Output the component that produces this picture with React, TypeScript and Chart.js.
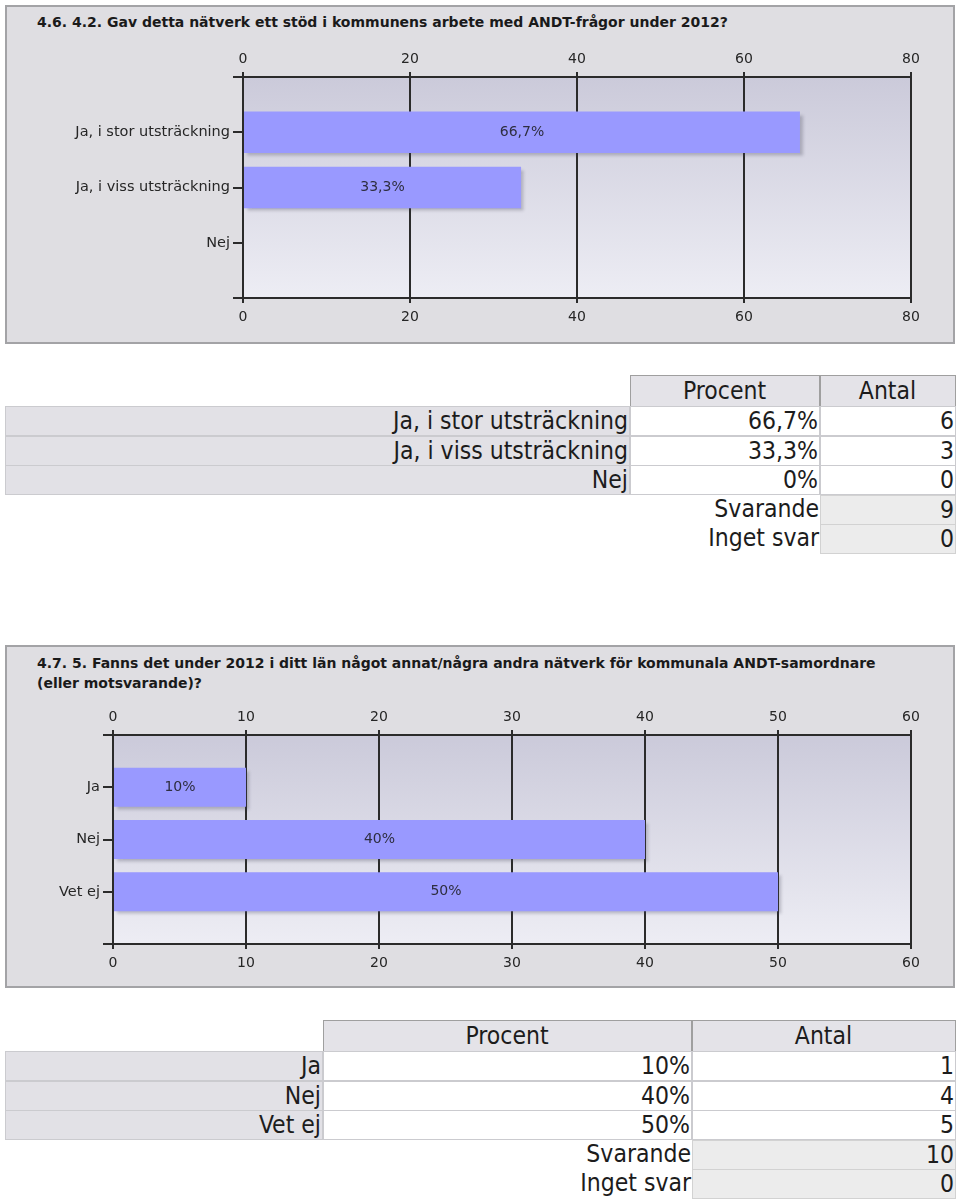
import React, { useEffect, useRef } from "react";
import { Chart, registerables } from "chart.js";

Chart.register(...registerables);

// ---------- DATA ----------
const q1Title = "4.6. 4.2. Gav detta nätverk ett stöd i kommunens arbete med ANDT-frågor under 2012?";
const q1Categories = ["Ja, i stor utsträckning", "Ja, i viss utsträckning", "Nej"];
const q1Percent = [66.7, 33.3, 0];
const q1PercentLabels = ["66,7%", "33,3%", "0%"];
const q1Count = [6, 3, 0];
const q1Svarande = 9;
const q1IngetSvar = 0;
const q1Ticks = [0, 20, 40, 60, 80];

const q2TitleLines = [
  "4.7. 5. Fanns det under 2012 i ditt län något annat/några andra nätverk för kommunala ANDT-samordnare",
  "(eller motsvarande)?",
];
const q2Categories = ["Ja", "Nej", "Vet ej"];
const q2Percent = [10, 40, 50];
const q2PercentLabels = ["10%", "40%", "50%"];
const q2Count = [1, 4, 5];
const q2Svarande = 10;
const q2IngetSvar = 0;
const q2Ticks = [0, 10, 20, 30, 40, 50, 60];

const tableHeaders = ["Procent", "Antal"];
const summaryLabels = ["Svarande", "Inget svar"];

// ---------- STYLE ----------
const CHART_FONT = "'DejaVu Sans', Verdana, sans-serif";
const TABLE_FONT = "'DejaVu Sans Condensed', 'DejaVu Sans', sans-serif";
const AXIS_COLOR = "#2b2b2b";
const BAR_COLOR = "#9999ff";

const bgPlugin = {
  id: "plotBg",
  beforeDraw(chart: any) {
    const { ctx, chartArea } = chart;
    if (!chartArea) return;
    const g = ctx.createLinearGradient(0, chartArea.top, 0, chartArea.bottom);
    g.addColorStop(0, "#cbcada");
    g.addColorStop(1, "#ededf4");
    ctx.save();
    ctx.fillStyle = g;
    ctx.fillRect(chartArea.left, chartArea.top, chartArea.right - chartArea.left, chartArea.bottom - chartArea.top);
    ctx.restore();
  },
};

const shadowPlugin = {
  id: "barShadow",
  beforeDatasetsDraw(chart: any) {
    const ctx = chart.ctx;
    ctx.save();
    ctx.shadowColor = "rgba(60,60,80,0.28)";
    ctx.shadowOffsetX = 3;
    ctx.shadowOffsetY = 3;
    ctx.shadowBlur = 3;
  },
  afterDatasetsDraw(chart: any) {
    chart.ctx.restore();
  },
};

function makeLabelPlugin(texts: string[]) {
  return {
    id: "barLabels",
    afterDraw(chart: any) {
      const ctx = chart.ctx;
      const meta = chart.getDatasetMeta(0);
      const ds = chart.data.datasets[0].data;
      ctx.save();
      ctx.font = `14px ${CHART_FONT}`;
      ctx.fillStyle = "#2e2e40";
      ctx.textAlign = "center";
      ctx.textBaseline = "middle";
      meta.data.forEach((el: any, i: number) => {
        const v = ds[i];
        if (v == null || v <= 0) return;
        const t = texts[i - 1];
        ctx.fillText(t, (el.x + el.base) / 2, el.y);
      });
      ctx.restore();
    },
  };
}

interface Geom {
  width: number;
  height: number;
  leftW: number;
  rightPad: number;
  topH: number;
  bottomH: number;
}

function buildConfig(categories: string[], values: number[], labels: string[], ticks: number[], g: Geom) {
  const padLabels = ["", ...categories, ""];
  const padData = [null, ...values, null];
  const max = ticks[ticks.length - 1];
  const step = ticks[1] - ticks[0];
  const tickFont = { family: CHART_FONT, size: 14 };
  const xCommon = (pos: string, onArea: boolean, h: number, pad: number) => ({
    type: "linear",
    position: pos,
    min: ticks[0],
    max,
    ticks: { stepSize: step, font: tickFont, color: "#262626", padding: pad },
    grid: { color: AXIS_COLOR, lineWidth: 2, tickLength: 5, drawOnChartArea: onArea, drawTicks: true },
    border: { color: AXIS_COLOR, width: 2 },
    afterFit(s: any) {
      s.height = h;
    },
  });
  return {
    type: "bar",
    data: {
      labels: padLabels,
      datasets: [
        {
          data: padData,
          backgroundColor: BAR_COLOR,
          borderWidth: 0,
          barPercentage: 0.75,
          categoryPercentage: 1,
        },
      ],
    },
    options: {
      indexAxis: "y",
      animation: false,
      responsive: false,
      maintainAspectRatio: false,
      layout: { padding: { left: 0, right: g.rightPad, top: 0, bottom: 0 } },
      plugins: { legend: { display: false }, tooltip: { enabled: false } },
      scales: {
        x: xCommon("bottom", true, g.bottomH, 6),
        x2: xCommon("top", false, g.topH, 4),
        y: {
          type: "category",
          offset: false,
          ticks: { font: { family: CHART_FONT, size: 14.5 }, color: "#262626", padding: 3, autoSkip: false },
          grid: { offset: false, drawOnChartArea: false, color: AXIS_COLOR, lineWidth: 2, tickLength: 10 },
          border: { color: AXIS_COLOR, width: 2, z: 1 },
          afterFit(s: any) {
            s.width = g.leftW;
          },
        },
      },
    },
    plugins: [bgPlugin, shadowPlugin, makeLabelPlugin(labels)],
  };
}

function BarChart(props: {
  categories: string[];
  values: number[];
  labels: string[];
  ticks: number[];
  geom: Geom;
  top: number;
}) {
  const ref = useRef<HTMLCanvasElement | null>(null);
  useEffect(() => {
    if (!ref.current) return;
    const chart = new Chart(
      ref.current,
      buildConfig(props.categories, props.values, props.labels, props.ticks, props.geom) as any
    );
    return () => chart.destroy();
  }, []);
  return (
    <canvas
      ref={ref}
      width={props.geom.width}
      height={props.geom.height}
      style={{
        position: "absolute",
        left: 0,
        top: props.top,
        width: props.geom.width,
        height: props.geom.height,
      }}
    />
  );
}

function Box(p: {
  x: number;
  y: number;
  w: number;
  h: number;
  text?: string | number;
  bg?: string;
  border?: string;
  align?: "left" | "right" | "center";
}) {
  return (
    <div
      style={{
        position: "absolute",
        left: p.x,
        top: p.y,
        width: p.w,
        height: p.h,
        boxSizing: "border-box",
        background: p.bg || "transparent",
        border: p.border || "none",
        textAlign: p.align || "right",
        lineHeight: `${p.h - 2}px`,
        fontFamily: TABLE_FONT,
        fontSize: 24.5,
        color: "#1c1c1c",
        paddingRight: 1,
        whiteSpace: "nowrap",
        overflow: "visible",
      }}
    >
      {p.text}
    </div>
  );
}

function DataTable(p: {
  cols: number[];
  headerY: number;
  rowYs: number[];
  categories: string[];
  percents: string[];
  counts: number[];
  svarande: number;
  inget: number;
}) {
  const [c0, c1, c2, c3] = p.cols;
  const rowH = 30;
  const light = "1px solid #cbcbcf";
  const cells: any[] = [];
  cells.push(
    <Box key="h1" x={c1} y={p.headerY} w={c2 - c1} h={32} text={tableHeaders[0]} bg="#e4e3e8" border="1px solid #9f9f9f" align="center" />
  );
  cells.push(
    <Box key="h2" x={c2} y={p.headerY} w={c3 - c2} h={32} text={tableHeaders[1]} bg="#e4e3e8" border="1px solid #9f9f9f" align="center" />
  );
  p.categories.forEach((cat, i) => {
    const y = p.rowYs[i];
    cells.push(<Box key={"l" + i} x={c0} y={y} w={c1 - c0} h={rowH} text={cat} bg="#e2e1e6" border={light} />);
    cells.push(<Box key={"p" + i} x={c1} y={y} w={c2 - c1} h={rowH} text={p.percents[i]} bg="#ffffff" border={light} />);
    cells.push(<Box key={"c" + i} x={c2} y={y} w={c3 - c2} h={rowH} text={p.counts[i]} bg="#ffffff" border={light} />);
  });
  const n = p.categories.length;
  [p.svarande, p.inget].forEach((v, k) => {
    const y = p.rowYs[n + k];
    cells.push(<Box key={"sl" + k} x={c1} y={y} w={c2 - c1} h={rowH} text={summaryLabels[k]} />);
    cells.push(<Box key={"sv" + k} x={c2} y={y} w={c3 - c2} h={rowH} text={v} bg="#ececec" border="1px solid #d2d2d2" />);
  });
  return <>{cells}</>;
}

export default function App() {
  const panelStyle = (top: number, h: number): React.CSSProperties => ({
    position: "absolute",
    left: 5,
    top,
    width: 950,
    height: h,
    boxSizing: "border-box",
    background: "#dfdee2",
    border: "2px solid #a3a3a6",
  });
  const titleStyle = (top: number): React.CSSProperties => ({
    position: "absolute",
    left: 37,
    top,
    fontFamily: CHART_FONT,
    fontWeight: "bold",
    fontSize: 14,
    lineHeight: "20px",
    color: "#1a1a1a",
    whiteSpace: "nowrap",
  });
  const geom1: Geom = { width: 960, height: 300, leftW: 243, rightPad: 49, topH: 37, bottomH: 42 };
  const geom2: Geom = { width: 960, height: 290, leftW: 113, rightPad: 49, topH: 40, bottomH: 41 };
  return (
    <div style={{ position: "relative", width: 960, height: 1201, overflow: "hidden", background: "#fff" }}>
      <style>{"body{margin:0}"}</style>
      <div style={panelStyle(5, 339)} />
      <div style={titleStyle(12)}>{q1Title}</div>
      <BarChart categories={q1Categories} values={q1Percent} labels={q1PercentLabels} ticks={q1Ticks} geom={geom1} top={40} />
      <DataTable
        cols={[5, 630, 820, 956]}
        headerY={375}
        rowYs={[406, 436, 465, 495, 524]}
        categories={q1Categories}
        percents={q1PercentLabels}
        counts={q1Count}
        svarande={q1Svarande}
        inget={q1IngetSvar}
      />
      <div style={panelStyle(645, 343)} />
      <div style={titleStyle(653)}>
        {q2TitleLines[0]}
        <br />
        {q2TitleLines[1]}
      </div>
      <BarChart categories={q2Categories} values={q2Percent} labels={q2PercentLabels} ticks={q2Ticks} geom={geom2} top={695} />
      <DataTable
        cols={[5, 323, 692, 956]}
        headerY={1020}
        rowYs={[1051, 1081, 1110, 1140, 1169]}
        categories={q2Categories}
        percents={q2PercentLabels}
        counts={q2Count}
        svarande={q2Svarande}
        inget={q2IngetSvar}
      />
    </div>
  );
}
